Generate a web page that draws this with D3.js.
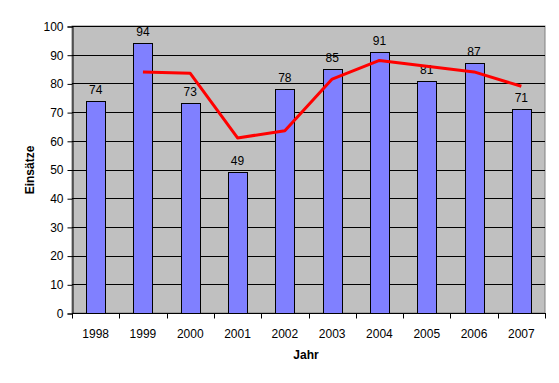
<!DOCTYPE html>
<html><head><meta charset="utf-8">
<script src="https://cdn.jsdelivr.net/npm/d3@7"></script>
<style>body{margin:0;background:#fff}svg{display:block;font-family:"Liberation Sans",Arial,sans-serif}</style>
</head><body><svg id="c" width="559" height="383"></svg>
<script>
const years = ["1998","1999","2000","2001","2002","2003","2004","2005","2006","2007"];
const einsaetze = [74, 94, 73, 49, 78, 85, 91, 81, 87, 71];
const trendYears = ["1999","2000","2001","2002","2003","2004","2005","2006","2007"];
const trendValues = [84, 83.5, 61, 63.5, 81.5, 88, 86, 84, 79];
const yTicks = [0,10,20,30,40,50,60,70,80,90,100];

const svg = d3.select("#c");
const L = 72, R = 545, T = 26, B = 313;
const x = d3.scaleBand().domain(years).range([L, R]).paddingInner(0.6).paddingOuter(0.3);
const xc = d3.scaleBand().domain(years).range([L, R]);
const y = d3.scaleLinear().domain([0, 100]).range([B, T]);

svg.append("rect").attr("x", L).attr("y", T).attr("width", R - L).attr("height", B - T)
  .attr("fill", "#c0c0c0").attr("stroke", "#808080").attr("stroke-width", 1);

svg.append("g").selectAll("line").data(yTicks.filter(d => d > 0)).join("line")
  .attr("x1", L).attr("x2", R).attr("y1", d => Math.round(y(d)) + 0.5).attr("y2", d => Math.round(y(d)) + 0.5)
  .attr("stroke", "#000").attr("stroke-width", 1);

svg.append("g").selectAll("rect").data(einsaetze).join("rect")
  .attr("x", (d, i) => Math.round(xc(years[i]) + xc.bandwidth() * 0.3) + 0.5)
  .attr("width", Math.round(xc.bandwidth() * 0.4))
  .attr("y", d => Math.round(y(d)) + 0.5)
  .attr("height", d => Math.round(B - y(d)))
  .attr("fill", "#8080ff").attr("stroke", "#000").attr("stroke-width", 1);

svg.append("g").selectAll("text").data(einsaetze).join("text")
  .attr("x", (d, i) => xc(years[i]) + xc.bandwidth() / 2)
  .attr("y", d => y(d) - 7)
  .attr("text-anchor", "middle").attr("font-size", 12).attr("fill", "#000")
  .text(d => d);

const line = d3.line().x((d, i) => xc(trendYears[i]) + xc.bandwidth() / 2).y(d => y(d));
svg.append("path").datum(trendValues).attr("d", line)
  .attr("fill", "none").attr("stroke", "#ff0000").attr("stroke-width", 3).attr("stroke-linejoin", "round");

// y axis
const yAxis = d3.axisLeft(y).tickValues(yTicks).tickSize(5).tickPadding(4);
const ga = svg.append("g").attr("transform", `translate(${L + 0.5},0.5)`).call(yAxis);
ga.selectAll("text").attr("font-size", 12).attr("fill", "#000").attr("font-family", "Liberation Sans, Arial, sans-serif");
ga.selectAll("line,path").attr("stroke", "#000");

// x axis
const xg = svg.append("g").attr("transform", `translate(0,${B + 0.5})`);
xg.append("line").attr("x1", L).attr("x2", R + 1).attr("stroke", "#000");
const bounds = years.map(d => xc(d)).concat([R]);
xg.selectAll("line.t").data(bounds).join("line").attr("class", "t")
  .attr("x1", d => Math.round(d) + 0.5).attr("x2", d => Math.round(d) + 0.5).attr("y1", 0).attr("y2", 5).attr("stroke", "#000");
xg.selectAll("text").data(years).join("text")
  .attr("x", d => xc(d) + xc.bandwidth() / 2).attr("y", 24)
  .attr("text-anchor", "middle").attr("font-size", 12).attr("fill", "#000").text(d => d);

svg.append("text").attr("x", 306).attr("y", 359).attr("text-anchor", "middle")
  .attr("font-size", 12).attr("font-weight", "bold").text("Jahr");
svg.append("text").attr("transform", "translate(34,170) rotate(-90)").attr("text-anchor", "middle")
  .attr("font-size", 12).attr("font-weight", "bold").text("Einsätze");
</script></body></html>
